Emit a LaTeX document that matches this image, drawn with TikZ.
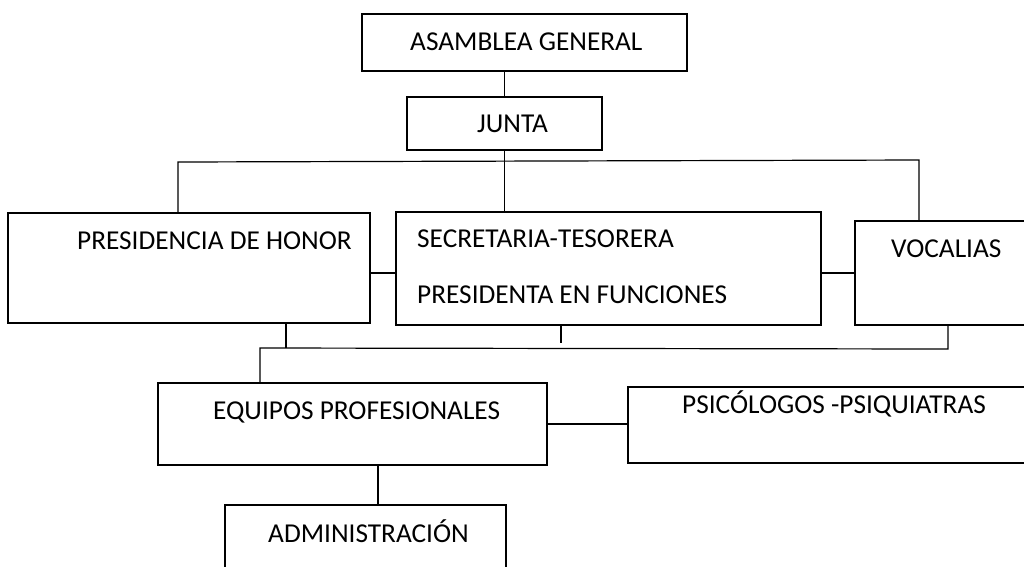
\documentclass[tikz,border=0pt]{standalone}
\usepackage{fontspec}
\setmainfont{Carlito}
\usetikzlibrary{positioning,calc}

\begin{document}
\begin{tikzpicture}[x=1pt, y=-1pt,
    caja/.style={rectangle, draw, line width=1.3pt, anchor=north west, inner sep=0pt, outer sep=0pt},
    texto/.style={anchor=base west, inner sep=0pt, font=\fontsize{27.3}{33}\selectfont},
    linea/.style={line width=1.2pt}]

    \useasboundingbox (0,0) rectangle (1024,566);

    % cajas
    \node[caja, minimum width=325pt, minimum height=57pt] (asamblea) at (362,14) {};
    \node[caja, minimum width=195pt, minimum height=53pt] (junta) at (407,97) {};
    \node[caja, minimum width=362pt, minimum height=110pt] (presid) at (8,213) {};
    \node[caja, line width=2.6pt, minimum width=425pt, minimum height=113pt] (secret) at (396,212) {};
    \node[caja, minimum width=180pt, minimum height=104pt] (vocal) at (855,221) {};
    \node[caja, minimum width=389pt, minimum height=82pt] (equipos) at (158,383) {};
    \node[caja, minimum width=400pt, minimum height=76pt] (psico) at (628,387) {};
    \node[caja, minimum width=281pt, minimum height=80pt] (admin) at (225,505) {};

    % textos
    \node[texto] (asamblea-t) at (410,50) {ASAMBLEA GENERAL};
    \node[texto] (junta-t) at (477,132) {JUNTA};
    \node[texto] (presid-t) at (77,249) {PRESIDENCIA DE HONOR};
    \node[texto] (secret-t1) at (417,247) {SECRETARIA-TESORERA};
    \node[texto] (secret-t2) at (417,303) {PRESIDENTA EN FUNCIONES};
    \node[texto] (vocal-t) at (891,257) {VOCALIAS};
    \node[texto] (equipos-t) at (213,419) {EQUIPOS PROFESIONALES};
    \node[texto] (psico-t) at (682,413) {PSICÓLOGOS -PSIQUIATRAS};
    \node[texto] (admin-t) at (268,542) {ADMINISTRACIÓN};

    % puntos de las lineas
    \coordinate (busI) at (178,162);
    \coordinate (busD) at (919,160);
    \coordinate (busP) at (260,348);
    \coordinate (busV) at (948,349);
    \coordinate (bajaP) at (286,348);
    \coordinate (bajaS) at (561,343);
    \coordinate (bajaE) at (378,465);
    \coordinate (medio) at (0,273);

    % lineas
    \draw[linea] (junta.north) -- (junta.north |- asamblea.south);
    \draw[linea] (junta.south) -- (junta.south |- secret.north);
    \draw[linea] (busI |- presid.north) -- (busI) -- (busD) -- (busD |- vocal.north);
    \draw[linea] (presid.east |- medio) -- (secret.west |- medio);
    \draw[linea] (secret.east |- medio) -- (vocal.west |- medio);
    \draw[linea] (equipos.north -| busP) -- (busP) -- (busV) -- (busV |- vocal.south);
    \draw[linea] (presid.south -| bajaP) -- (bajaP);
    \draw[linea] (secret.south -| bajaS) -- (bajaS);
    \draw[linea] (equipos.east) -- (equipos.east -| psico.west);
    \draw[linea] (bajaE) -- (bajaE |- admin.north);
\end{tikzpicture}
\end{document}
